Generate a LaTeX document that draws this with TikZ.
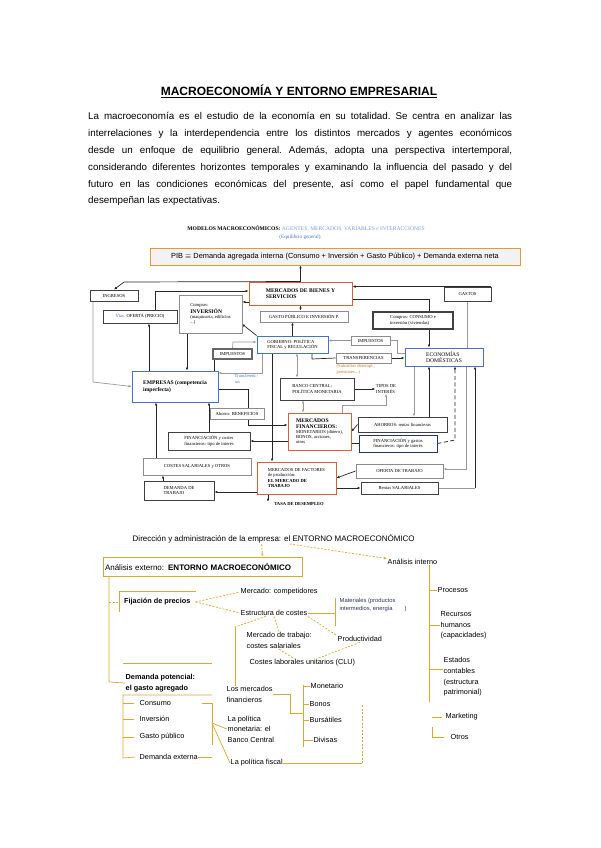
\documentclass[tikz,border=0pt]{standalone}
\usepackage{fontspec}
\setmainfont{Liberation Sans}
\newfontfamily\diagserif{Liberation Serif}
\usetikzlibrary{arrows.meta,positioning,backgrounds}
\definecolor{mapblue}{RGB}{68,114,196}
\definecolor{mapred}{RGB}{214,96,56}
\definecolor{maporange}{RGB}{230,150,60}
\definecolor{mapgold}{RGB}{214,168,52}
\definecolor{mapink}{RGB}{40,50,100}
\newcommand{\dtiny}{\diagserif\fontsize{4.6}{5.3}\selectfont}
\newcommand{\dsmall}{\diagserif\fontsize{5.6}{6.3}\selectfont}
\newcommand{\gsize}{\fontsize{7.3}{10.6}\selectfont}
\tikzset{
  pagetitle/.style={font=\bfseries\fontsize{12}{14}\selectfont, inner sep=0pt},
  pagetext/.style={anchor=north west, inner sep=0pt, text width=424pt, align=justify,
                   font=\fontsize{9.8}{16.9}\selectfont},
  mbox/.style={draw=black!75, line width=0.9pt, fill=white, inner sep=1.5pt, font=\dtiny, align=left},
  mbluebox/.style={mbox, draw=mapblue},
  mredbox/.style={mbox, draw=mapred, line width=1pt},
  mgraybox/.style={mbox, draw=black!45},
  mlabel/.style={inner sep=0.5pt, font=\dtiny, align=left},
  mline/.style={line width=0.7pt, black!85},
  mgline/.style={line width=0.7pt, black!40},
  marr/.style={mline, -{Latex[length=3pt,width=2.6pt]}},
  mgarr/.style={mgline, -{Latex[length=3pt,width=2.6pt]}},
  mdarr/.style={mgline, {Latex[length=3pt,width=2.6pt]}-{Latex[length=3pt,width=2.6pt]}},
  gline/.style={mapgold, line width=0.7pt},
  gdash/.style={gline, dash pattern=on 2pt off 1.5pt},
  garr/.style={gdash, -{Latex[length=3pt,width=2.4pt]}},
  gtext/.style={anchor=west, inner sep=0.5pt, font=\gsize, align=left},
}

\begin{document}
\begin{tikzpicture}[x=1pt,y=-1pt]
  \useasboundingbox (0,0) rectangle (600,848);
  % heading and introduction
  \node[pagetitle] (title) at (299,91) {\underline{MACROECONOMÍA Y ENTORNO EMPRESARIAL}};
  \node[pagetext] (intro) at (88,112) {\frenchspacing\hyphenpenalty=10000 La macroeconomía es el estudio de la economía en su totalidad. Se centra en analizar las\linebreak
    interrelaciones y la interdependencia entre los distintos mercados y agentes económicos\linebreak
    desde un enfoque de equilibrio general. Además, adopta una perspectiva intertemporal,\linebreak
    considerando diferentes horizontes temporales y examinando la influencia del pasado y del\linebreak
    futuro en las condiciones económicas del presente, así como el papel fundamental que\linebreak
    desempeñan las expectativas.};

  % macro model
  \node[mlabel, align=center, font=\diagserif\fontsize{5.6}{6.5}\selectfont] (modhead) at (306,229) {\textbf{MODELOS MACROECONÓMICOS:} \textcolor{mapblue!70}{AGENTES, MERCADOS, VARIABLES e INTERACCIONES}};
  \node[mlabel, text=mapblue, font=\diagserif\fontsize{5.2}{6}\selectfont] (modsub) at (300,237.5) {(Equilibrio general)};
  \node[mbox, draw=maporange, fill=black!5, font=\fontsize{7.4}{8}\selectfont, minimum width=370pt, minimum height=17pt] (pib) at (335,256.5)
    {PIB $\equiv$ Demanda agregada interna (Consumo + Inversión + Gasto Público) + Demanda externa neta};
  \node[mbox, minimum width=48pt, minimum height=11pt] (ingresos) at (114,295.5) {INGRESOS};
  \node[mredbox, font=\dsmall\bfseries, minimum width=103pt, minimum height=23pt] (mercbs) at (300.5,293.5) {MERCADOS DE BIENES Y\\SERVICIOS};
  \node[mbox, minimum width=47pt, minimum height=14pt] (gastos) at (467.5,294) {GASTOS};
  \node[mgraybox, minimum width=63pt, minimum height=38pt] (inversion) at (210.5,314) {Compras:\\{\dsmall\bfseries INVERSIÓN}\\(maquinaria, edificios\\...)};
  \node[mbox, minimum width=74pt, minimum height=13pt] (vtas) at (140,316.5) {\textcolor{mapblue}{Vtas.} OFERTA (PRECIO)};
  \node[mgraybox, minimum width=88pt, minimum height=11pt] (gastopub) at (304,316.5) {GASTO PÚBLICO E INVERSIÓN P.};
  \node[mbox, line width=1.2pt, minimum width=80pt, minimum height=17pt] (consumo) at (413,320.5) {Compras: CONSUMO e\\inversión (viviendas)};
  \node[mbluebox, minimum width=71pt, minimum height=17pt] (gobierno) at (292.5,344.5) {GOBIERNO: POLÍTICA\\FISCAL y REGULACIÓN};
  \node[mbox, line width=1.2pt, draw=black!60, minimum width=39pt, minimum height=10pt] (impizq) at (232.5,354) {IMPUESTOS};
  \node[mgraybox, minimum width=39pt, minimum height=9pt] (impder) at (370.5,340.5) {IMPUESTOS};
  \node[mgraybox, minimum width=55pt, minimum height=10pt] (transf) at (363.5,358) {TRANSFERENCIAS};
  \node[mlabel, text=maporange!80!black, anchor=north west] (subsid) at (336,364) {(Subsidios desempl.,\\pensiones...)};
  \node[mbluebox, font=\dsmall, minimum width=78pt, minimum height=18pt] (econ) at (444,357) {ECONOMÍAS\\DOMÉSTICAS};
  \node[mbluebox, font=\dsmall\bfseries, minimum width=86pt, minimum height=31pt] (empresas) at (175,386.5) {EMPRESAS (competencia\\imperfecta)};
  \node[mlabel, text=mapblue, anchor=north west] (transfizq) at (234,374) {Transferenc-\\ias};
  \node[mbox, minimum width=74pt, minimum height=22pt] (banco) at (317,389) {BANCO CENTRAL:\\POLÍTICA MONETARIA};
  \node[mlabel] (tipos) at (386,389) {TIPOS DE\\INTERÉS};
  \node[mgraybox, minimum width=54pt, minimum height=11pt] (benef) at (237,413.5) {Ahorro: BENEFICIOS};
  \node[mredbox, minimum width=63pt, minimum height=37pt] (mercfin) at (319.5,431.5) {{\dsmall\bfseries MERCADOS}\\{\dsmall\bfseries FINANCIEROS:}\\MONETARIOS (dinero),\\BONOS, acciones,\\otros};
  \node[mbox, minimum width=89pt, minimum height=15pt] (ahorros) at (402.5,424.5) {AHORROS: rentas financieras};
  \node[mbox, minimum width=82pt, minimum height=18pt] (finizq) at (209,441) {FINANCIACIÓN y costes\\financieros: tipo de interés};
  \node[mbox, draw=mapink, minimum width=78pt, minimum height=17pt] (finder) at (398,443.5) {FINANCIACIÓN y gastos\\financieros: tipo de interés};
  \node[mgraybox, minimum width=108pt, minimum height=17pt] (costes) at (197,466.5) {COSTES SALARIALES y OTROS};
  \node[mredbox, minimum width=79pt, minimum height=32pt] (factores) at (296.5,478) {MERCADOS DE FACTORES\\de producción:\\{\bfseries EL MERCADO DE}\\{\bfseries TRABAJO}};
  \node[mgraybox, minimum width=87pt, minimum height=14pt] (ofertatr) at (399.5,471) {OFERTA DE TRABAJO};
  \node[mbox, minimum width=70pt, minimum height=19pt] (demanda) at (179,490.5) {DEMANDA DE\\TRABAJO};
  \node[mbox, minimum width=77pt, minimum height=12pt] (rentas) at (399.5,488) {Rentas SALARIALES};
  \node[mlabel, font=\dtiny\bfseries] (tasa) at (299,504) {TASA DE DESEMPLEO};

  \coordinate (ingk) at (124,282);
  \coordinate (gk) at (93,382);
  \coordinate (vk1) at (155,291);
  \coordinate (vk2) at (149,0);
  \coordinate (cbk) at (429,299);
  \coordinate (mik) at (0,302);
  \coordinate (ivk) at (187,0);
  \coordinate (invk) at (242,324);
  \coordinate (imk) at (233,342);
  \coordinate (ek) at (214,0);
  \coordinate (edk) at (397,353);
  \coordinate (trk) at (312,359);
  \coordinate (gbk) at (297,0);
  \coordinate (bmk) at (303,0);
  \coordinate (mtk) at (342,405);
  \coordinate (tlk) at (262,373);
  \coordinate (gfk) at (272,0);
  \coordinate (ebk) at (248,389);
  \coordinate (ebk2) at (248,425);
  \coordinate (cek) at (156,0);
  \coordinate (dck) at (163,0);
  \coordinate (dk) at (0,492);
  \coordinate (tk) at (268,0);
  \coordinate (ea1) at (414,0);
  \coordinate (ea2) at (429,0);
  \coordinate (fdk) at (455,440);
  \coordinate (eok) at (466,469);
  \coordinate (rek) at (475,488);

  \begin{scope}[on background layer]
    \draw[marr] (mercbs.north) -- (mercbs.north |- pib.south);
    \draw[marr] (mercbs.north) -- (ingk) -- (ingresos.north);
    \draw[marr] (gastos.north east) -- (mercbs.east |- gastos.north);
    \draw[mgline] (gastos.south) -- (gastos.south |- econ.north);
    \draw[marr] (mercbs.east |- cbk) -- (cbk) -- (cbk |- econ.north);
    \draw[marr] (mercbs.south) -- (mercbs.south |- gastopub.north);
    \draw[marr] (gobierno.north) -- (gobierno.north |- gastopub.south);
    \draw[marr] (mercbs.west |- mik) -- (inversion.east |- mik);
    \draw[marr] (vk1 |- vtas.north) -- (vk1) -- (vk1 -| mercbs.west);
    \draw[marr] (vk2 |- empresas.north) -- (vk2 |- vtas.south);
    \draw[marr] (ivk |- inversion.south) -- (ivk |- empresas.north);
    \draw[mgarr] (gk |- ingresos.south) -- (gk) -- (empresas.west);
    \draw[mline] (ek |- empresas.north) -- (ek |- impizq.south);
    \draw[mgarr] (impizq.north) -- (imk) -- (imk -| gobierno.west);
    \draw[marr] (gobierno.north west) -- (invk);
    \draw[mgline] (edk -| econ.west) -- (edk) -- (edk |- impder.east) -- (impder.east);
    \draw[mgarr] (impder.west) -- (impder.west -| gobierno.east);
    \draw[mline] (trk |- gobierno.south) -- (trk) -- (transf.west);
    \draw[marr] (transf.east) -- (transf.east -| econ.west);
    \draw[mdarr] (gbk |- gobierno.south) -- (gbk |- banco.north);
    \draw[marr] (banco.east) -- (tipos.west);
    \draw[mdarr] (bmk |- banco.south) -- (bmk |- mercfin.north);
    \draw[mgarr] (mtk |- mercfin.north) -- (mtk) -- (mtk -| tipos.south) -- (tipos.south);
    \draw[mgarr] (tlk |- gobierno.south) -- (tlk) -- (tlk -| empresas.east);
    \draw[marr] (gfk |- gobierno.south) -- (gfk |- factores.north);
    \draw[marr] (empresas.east |- ebk) -- (ebk) -- (ebk2) -- (ebk2 -| mercfin.west);
    \draw[marr] (mercfin.west |- finizq.east) -- (finizq.east);
    \draw[marr] (finizq.north) -- (finizq.north |- empresas.south);
    \draw[marr] (cek |- costes.north) -- (cek |- empresas.south);
    \draw[marr] (dck |- demanda.north) -- (dck |- costes.south);
    \draw[marr] (factores.west |- dk) -- (demanda.east |- dk);
    \draw[marr] (tk |- factores.south) -- (tk |- tasa.north);
    \draw[marr] (ahorros.west) -- (mercfin.east);
    \draw[mgarr] (ea1 |- econ.south) -- (ea1 |- ahorros.north);
    \draw[marr] (ea2 |- ahorros.north) -- (ea2 |- econ.south);
    \draw[mline] (mercfin.east |- finder.west) -- (finder.west);
    \draw[marr, dash pattern=on 4pt off 2.5pt] (finder.east) -- (fdk) -- (fdk |- econ.south);
    \draw[mgarr] (eok |- econ.south) -- (eok) -- (eok -| ofertatr.east);
    \draw[marr] (ofertatr.west) -- (factores.east);
    \draw[marr] (factores.east |- rentas.west) -- (rentas.west);
    \draw[mgline] (rentas.east) -- (rek);
    \draw[marr] (rek) -- (rek |- econ.south);
  \end{scope}

  % business environment map
  \node[gtext, font=\fontsize{8}{10}\selectfont] (btitle) at (132,539) {Dirección y administración de la empresa: el ENTORNO MACROECONÓMICO};
  \node[draw=mapgold, line width=0.8pt, inner sep=2pt, minimum height=19pt, text width=195pt, align=left,
        font=\fontsize{8}{10}\selectfont] (aext) at (202.5,566.5) {Análisis externo: \textbf{ENTORNO MACROECONÓMICO}};
  \node[gtext] (aint) at (387,562) {Análisis interno};
  \node[gtext, font=\gsize\bfseries, inner xsep=5pt, minimum height=20pt] (fij) at (119,602) {Fijación de precios};
  \node[gtext] (mcomp) at (240,592) {Mercado: competidores};
  \node[gtext] (estr) at (240,613) {Estructura de costes};
  \node[gtext, font=\fontsize{5.8}{8}\selectfont, text=mapink] (mater) at (339,604.5) {Materiales (productos\\intermedios, energía\hspace{12pt})};
  \node[gtext] (prod) at (337,639) {Productividad};
  \node[gtext] (mtrab) at (246,640.5) {Mercado de trabajo:\\costes salariales};
  \node[gtext] (clu) at (249,663) {Costes laborales unitarios (CLU)};
  \node[gtext, font=\gsize\bfseries] (dpot) at (125,683) {Demanda potencial:\\el gasto agregado};
  \node[gtext] (cons) at (139,703) {Consumo};
  \node[gtext] (inv) at (139,719) {Inversión};
  \node[gtext] (gpub) at (139,737) {Gasto público};
  \node[gtext] (dext) at (139,757) {Demanda externa};
  \node[gtext] (mfin) at (226,694.5) {Los mercados\\financieros};
  \node[gtext] (polmon) at (227,729) {La política\\monetaria: el\\Banco Central};
  \node[gtext] (fiscal) at (230,763) {La política fiscal};
  \node[gtext] (monet) at (310,686) {Monetario};
  \node[gtext] (bonos) at (309,704) {Bonos};
  \node[gtext] (bursa) at (309,720) {Bursátiles};
  \node[gtext] (divis) at (313,740) {Divisas};
  \node[gtext] (proc) at (437,590) {Procesos};
  \node[gtext] (rrhh) at (440,625.5) {Recursos\\humanos\\(capacidades)};
  \node[gtext] (estados) at (443,677) {Estados\\contables\\(estructura\\patrimonial)};
  \node[gtext] (mark) at (445,717) {Marketing};
  \node[gtext] (otros) at (450,737) {Otros};

  \coordinate (lk) at (109,682);
  \coordinate (fk) at (109,602);
  \coordinate (matk1) at (335,598);
  \coordinate (matk2) at (335,626);
  \coordinate (vfk) at (235,627);
  \coordinate (dtk) at (123,663);
  \coordinate (dk1) at (123,695);
  \coordinate (dk2) at (123,758);
  \coordinate (brk1) at (212,703);
  \coordinate (brk2) at (212,723);
  \coordinate (brk3) at (212,745);
  \coordinate (mfk1) at (290,694.5);
  \coordinate (mfk2) at (290,713);
  \coordinate (mbk1) at (303,685);
  \coordinate (mbk2) at (303,747);
  \coordinate (fsk) at (362,763);
  \coordinate (rk1) at (429,568);
  \coordinate (rk2) at (429,702);
  \coordinate (otk) at (432,727);

  \draw[garr] ([xshift=-12pt]btitle.south) -- ([xshift=60pt]aext.north);
  \draw[garr] ([xshift=16pt]btitle.south) -- (aint.north west);
  \draw[gline] (lk |- aext.south) -- (lk) -- (dpot.west);
  \draw[gdash] (fk) -- (fij.west);
  \draw[gline] (fij.south west) -- (fij.north west) -- (fij.north east);
  \draw[gdash] (fij.east) -- (mcomp.west);
  \draw[gdash] (fij.east) -- (estr.west);
  \draw[gline] (estr.east) -- (estr.east -| matk1);
  \draw[gline] (matk1) -- (matk2);
  \draw[gdash] (estr.south east) -- (prod.north west);
  \draw[gdash] (estr.south) -- (mtrab.north);
  \draw[gdash] ([xshift=-8pt]estr.south) -- (vfk);
  \draw[gline] (vfk) -- (vfk |- mfin.north);
  \draw[gdash] (mtrab.south) -- ([xshift=-8pt]clu.north);
  \draw[gdash] (prod.south) -- ([xshift=14pt]clu.north);
  \draw[gline] (dtk) -- (dtk -| brk1);
  \draw[gline] (dk1 -| brk1) -- (dk1) -- (dk2) -- ([xshift=-4pt]dext.west);
  \foreach \n in {cons,inv,gpub}
    \draw[gline] (dk1 |- \n.west) -- ([xshift=-5pt]\n.west);
  \draw[gline] ([xshift=-10pt]brk1) -- (brk1) -- (brk3);
  \draw[gline] (brk2) -- (polmon.west);
  \draw[gline] (brk2) -- (fiscal.west);
  \draw[gline] (dext.east) -- (dext.east -| brk1);
  \draw[gline] (mfin.east) -- (mfk1) -- (mfk2) -- (mfk2 -| mbk1);
  \draw[gline] (mbk1) -- (mbk2);
  \foreach \n in {monet,bonos,bursa,divis}
    \draw[gline] (mbk1 |- \n.west) -- (\n.west);
  \draw[gline] (fiscal.east) -- (fsk);
  \draw[gdash] (fsk) -- (fsk |- bonos.west);
  \draw[gline] (rk1 |- aint.south) -- (rk2);
  \draw[gline] (rk1 |- proc.west) -- (proc.west);
  \draw[gline] (rk1 |- rrhh.west) -- (rrhh.west);
  \draw[gline] ([yshift=8pt]rk1 |- estados.west) -- ([yshift=8pt]estados.west);
  \draw[gline] ([xshift=-13pt]mark.west) -- ([xshift=-3pt]mark.west);
  \draw[gline] (otk) -- (otk |- otros.west) -- ([xshift=-6pt]otros.west);
\end{tikzpicture}
\end{document}
